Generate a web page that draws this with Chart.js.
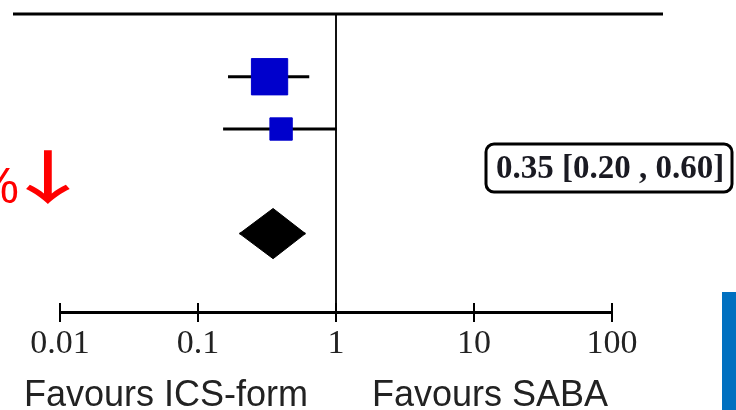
<!DOCTYPE html>
<html><head><meta charset="utf-8">
<script src="https://cdn.jsdelivr.net/npm/chart.js@4/dist/chart.umd.min.js"></script>
<style>html,body{margin:0;padding:0;background:#fff;overflow:hidden}#wrap{position:relative;width:736px;height:410px}</style>
</head><body><div id="wrap"><canvas id="c" width="736" height="410"></canvas></div>
<script>
// ---- data ----
const studyNames = ['Study A', 'Study B'];
const studyRows = [1, 2];
const studyOR = [0.33, 0.40];
const studyLower = [0.165, 0.152];
const studyUpper = [0.64, 1.01];
const studyWeights = [72, 28];
const pooledRow = [4];
const pooledOR = [0.35];
const pooledLower = [0.20];
const pooledUpper = [0.60];
const tickValues = [0.01, 0.1, 1, 10, 100];
const tickLabels = ['0.01', '0.1', '1', '10', '100'];
const sideLabels = ['Favours ICS-form', 'Favours SABA'];
const reductionLabel = ['%', '\u2193'];

// ---- styles ----
const Y_MIN = -0.2, Y_MAX = 5.5;
const SQUARE_K = 4.36;      // square side per sqrt(weight), px
const DIAMOND_HALF = 0.48;  // diamond half-height in row units

const datasets = [];
// study squares
datasets.push({
  label: 'Studies',
  data: studyOR.map((v, i) => ({x: v, y: studyRows[i]})),
  pointStyle: 'rect',
  pointRadius: studyWeights.map(w => SQUARE_K * Math.sqrt(w) / Math.SQRT2 - 0.5),
  backgroundColor: '#0000cc', borderColor: '#0000cc', borderWidth: 1,
  showLine: false, order: 0
});
// CI lines
studyOR.forEach((v, i) => {
  datasets.push({
    label: studyNames[i] + ' CI',
    data: [{x: studyLower[i], y: studyRows[i]}, {x: studyUpper[i], y: studyRows[i]}],
    showLine: true, pointRadius: 0, borderColor: '#000', borderWidth: 3, order: 2
  });
});
// pooled diamond (upper + lower halves) and its middle line
[-1, 1].forEach(s => {
  datasets.push({
    label: 'Pooled',
    data: [
      {x: pooledLower[0], y: pooledRow[0]},
      {x: pooledOR[0], y: pooledRow[0] + s * DIAMOND_HALF},
      {x: pooledUpper[0], y: pooledRow[0]}
    ],
    showLine: true, pointRadius: 0, borderColor: '#000', borderWidth: 1,
    backgroundColor: '#000', fill: {value: pooledRow[0]}, tension: 0, order: 1
  });
});
datasets.push({
  label: 'Pooled CI',
  data: [{x: pooledLower[0], y: pooledRow[0]}, {x: pooledUpper[0], y: pooledRow[0]}],
  showLine: true, pointRadius: 0, borderColor: '#000', borderWidth: 2, order: 0
});
// line of no effect
datasets.push({
  label: 'No effect',
  data: [{x: 1, y: Y_MIN}, {x: 1, y: Y_MAX}],
  showLine: true, pointRadius: 0, borderColor: '#111', borderWidth: 2, order: 3
});

const deco = {
  id: 'deco',
  beforeDraw(chart) {
    const c = chart.ctx;
    c.save(); c.fillStyle = '#fff'; c.fillRect(0, 0, chart.width, chart.height); c.restore();
  },
  afterDraw(chart) {
    const c = chart.ctx, a = chart.chartArea, xs = chart.scales.x;
    c.save();
    // top rule
    c.strokeStyle = '#000'; c.lineWidth = 3;
    c.beginPath(); c.moveTo(13, a.top); c.lineTo(663, a.top); c.stroke();
    // upward halves of tick marks
    c.lineWidth = 2; c.beginPath();
    tickValues.forEach(v => { const px = xs.getPixelForValue(v); c.moveTo(px, a.bottom + 1); c.lineTo(px, a.bottom - 9); });
    c.stroke();
    // side labels
    const x1 = xs.getPixelForValue(1);
    c.fillStyle = '#222'; c.font = "36px 'Liberation Sans', Arial, sans-serif"; c.textBaseline = 'alphabetic';
    c.textAlign = 'right'; c.fillText(sideLabels[0], x1 - 28, 406);
    c.textAlign = 'left'; c.fillText(sideLabels[1], x1 + 36, 406);
    // red reduction label
    c.fillStyle = '#ff0000';
    c.font = "50px 'Liberation Sans', Arial, sans-serif";
    c.textAlign = 'right'; c.fillText(reductionLabel[0], 19, 203);
    c.save();
    c.translate(48, 0); c.scale(1.6, 1);
    c.font = "500 58px 'Noto Sans CJK JP', sans-serif";
    c.textAlign = 'center'; c.fillText(reductionLabel[1], 0, 199);
    c.restore();
    // pooled estimate box
    const txt = pooledOR[0].toFixed(2) + ' [' + pooledLower[0].toFixed(2) + ' , ' + pooledUpper[0].toFixed(2) + ']';
    c.beginPath(); c.roundRect(486, 144, 246, 48, 8);
    c.fillStyle = '#fff'; c.fill(); c.strokeStyle = '#000'; c.lineWidth = 3; c.stroke();
    c.fillStyle = '#1a1a22'; c.font = "bold 33px 'Liberation Serif', 'Times New Roman', serif";
    c.textAlign = 'center'; c.textBaseline = 'middle'; c.fillText(txt, 610, 169);
    // blue side block
    c.fillStyle = '#0070c0'; c.fillRect(722, 292, 14, 118);
    c.restore();
  }
};

new Chart(document.getElementById('c'), {
  type: 'scatter',
  data: {datasets},
  options: {
    responsive: false, animation: false, events: [],
    layout: {autoPadding: false, padding: {left: 60, right: 124, top: 14, bottom: 0}},
    plugins: {legend: {display: false}, tooltip: {enabled: false}},
    scales: {
      x: {
        type: 'logarithmic', min: 0.01, max: 100, position: 'bottom',
        afterBuildTicks: s => { s.ticks = tickValues.map(v => ({value: v})); },
        afterFit: s => { s.height = 98; },
        ticks: {autoSkip: false, maxRotation: 0, padding: 2, color: '#222',
          font: {family: "'Liberation Serif', 'Times New Roman', serif", size: 34},
          callback: (v, i) => tickLabels[i]},
        grid: {drawOnChartArea: false, drawTicks: true, tickLength: 10, color: '#000', lineWidth: 2},
        border: {display: true, color: '#000', width: 3}
      },
      y: {type: 'linear', min: Y_MIN, max: Y_MAX, reverse: true, display: false}
    }
  },
  plugins: [deco]
});
</script></body></html>
